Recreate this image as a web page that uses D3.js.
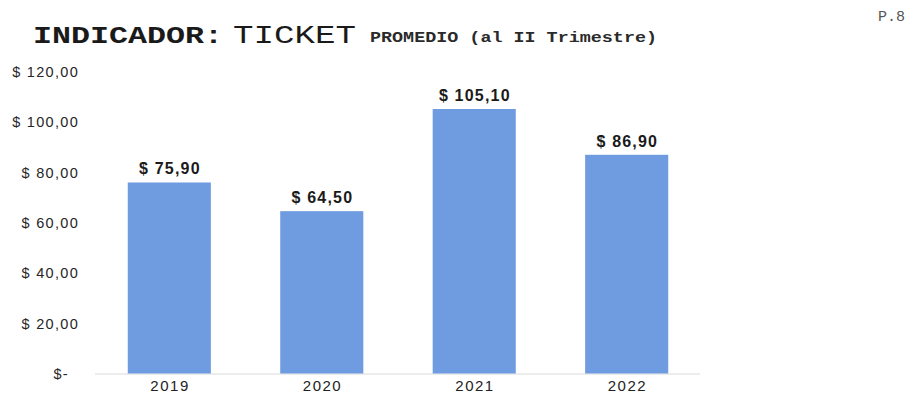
<!DOCTYPE html>
<html>
<head>
<meta charset="utf-8">
<script src="https://cdn.jsdelivr.net/npm/d3@7"></script>
<style>
  html, body { margin: 0; padding: 0; background: #fff; }
  svg { display: block; }
</style>
</head>
<body>
<svg id="chart" width="918" height="401"></svg>
<script>
// Ticket promedio al II trimestre, por año
const years = ["2019", "2020", "2021", "2022"];
const ticketValues = [75.90, 64.50, 105.10, 86.90];
const yTicks = [0, 20, 40, 60, 80, 100, 120];

const svg = d3.select("#chart");

// Spanish-style number format: "75,90"
const fmt = v => d3.format(".2f")(v).replace(".", ",");
const tickLabel = v => v === 0 ? "$-" : "$ " + fmt(v);

const x = d3.scaleBand().domain(years).range([93, 703]).paddingInner(0.455).paddingOuter(0.228);
const y = d3.scaleLinear().domain([0, 120]).range([373.5, 71.5]);

const mono = "'Liberation Mono', 'Courier New', monospace";
const sans = "'Liberation Sans', Arial, sans-serif";

// Title
const title = svg.append("g").attr("fill", "#1a1a1a").style("font-family", mono);
title.append("text").attr("x", 33).attr("y", 43).attr("font-size", 24).attr("font-weight", "bold")
  .attr("textLength", 190).attr("lengthAdjust", "spacingAndGlyphs").text("INDICADOR:");
title.append("text").attr("x", 233).attr("y", 43).attr("font-size", 26)
  .attr("textLength", 123).attr("lengthAdjust", "spacingAndGlyphs").text("TICKET");
title.append("text").attr("x", 370).attr("y", 42).attr("font-size", 14).attr("font-weight", "bold")
  .attr("fill", "#2a2a2a")
  .attr("textLength", 287).attr("lengthAdjust", "spacingAndGlyphs").text("PROMEDIO (al II Trimestre)");
svg.append("text").attr("x", 905).attr("y", 21).attr("text-anchor", "end")
  .attr("font-family", mono).attr("font-size", 15)
  .attr("fill", "#555").text("P.8");

// Y axis labels (no axis line)
const yAxis = d3.axisLeft(y).tickValues(yTicks).tickSize(0).tickPadding(0).tickFormat(tickLabel);
const gy = svg.append("g").attr("transform", "translate(79,0)").call(yAxis);
gy.select(".domain").remove();
gy.selectAll("text")
  .attr("font-family", sans)
  .attr("font-size", 14.5)
  .attr("letter-spacing", 1.3)
  .attr("fill", "#262626")
  .attr("dy", "0.35em")
  .attr("dx", d => d === 0 ? -10 : 0);

// Baseline
svg.append("line")
  .attr("x1", 95).attr("x2", 700)
  .attr("y1", y(0) + 0.5).attr("y2", y(0) + 0.5)
  .attr("stroke", "#d9d9d9").attr("stroke-width", 1);

// Bars
svg.append("g").selectAll("rect").data(years).join("rect")
  .attr("x", d => x(d))
  .attr("width", x.bandwidth())
  .attr("y", (d, i) => y(ticketValues[i]))
  .attr("height", (d, i) => y(0) - y(ticketValues[i]))
  .attr("fill", "#6f9be0");

// Value labels (dx compensates the trailing letter-spacing)
svg.append("g").selectAll("text").data(years).join("text")
  .attr("x", d => x(d) + x.bandwidth() / 2)
  .attr("y", (d, i) => y(ticketValues[i]) - 8)
  .attr("dx", 0.6)
  .attr("text-anchor", "middle")
  .attr("font-family", sans)
  .attr("font-size", 16)
  .attr("font-weight", "bold")
  .attr("letter-spacing", 1.2)
  .attr("fill", "#1a1a1a")
  .text((d, i) => "$ " + fmt(ticketValues[i]));

// X axis labels
const xAxis = d3.axisBottom(x).tickSize(0).tickPadding(0);
const gx = svg.append("g").attr("transform", `translate(0,${y(0) + 7})`).call(xAxis);
gx.select(".domain").remove();
gx.selectAll("text")
  .attr("font-family", sans)
  .attr("font-size", 15)
  .attr("letter-spacing", 1.5)
  .attr("dx", 0.75)
  .attr("fill", "#222")
  .attr("dy", "0.71em");
</script>
</body>
</html>
